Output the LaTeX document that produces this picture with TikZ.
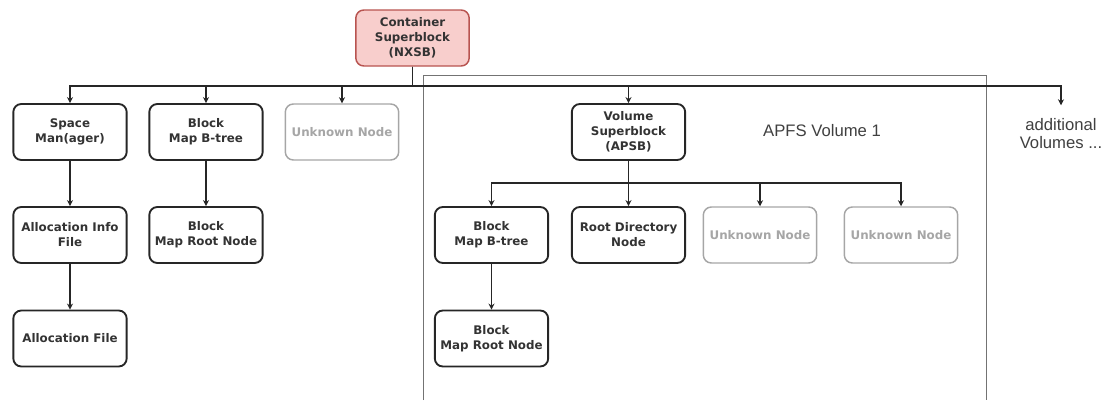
\documentclass[tikz,border=0pt]{standalone}
\usepackage{fontspec}
\setmainfont{DejaVu Sans}
\newfontfamily\lib{Liberation Sans}
\usetikzlibrary{arrows.meta}
\definecolor{nxfill}{HTML}{F8CECC}
\definecolor{nxdraw}{HTML}{B85450}
\definecolor{unkgray}{HTML}{A6A6A6}
\tikzset{
  box/.style={draw=black!85, line width=1.4pt, rounded corners=6pt, fill=white,
    minimum width=85pt, minimum height=42pt, inner sep=1pt, align=center,
    font=\fontsize{8.9}{11.2}\selectfont\bfseries, text=black!80},
  nxbox/.style={box, fill=nxfill, draw=nxdraw, line width=1.1pt},
  unk/.style={box, draw=unkgray, line width=1.1pt, text=unkgray},
  conn/.style={draw=black!85, line width=0.8pt, -{Stealth[length=4.5pt,width=4.5pt]}},
  lbl/.style={font=\lib\fontsize{12.5}{13.5}\selectfont, text=black!75, align=center},
}
\begin{document}
\begin{tikzpicture}[x=0.75pt,y=-0.75pt]
\useasboundingbox (0,0) rectangle (1109,400);
% volume frame
\draw[draw=black!55, line width=0.7pt] (423,400) -- (423,75) -- (986,75) -- (986,400);
% nodes
\node[nxbox] (nx) at (412.5,38) {Container\\Superblock\\(NXSB)};
\node[box] (sm) at (70,132) {Space\\Man(ager)};
\node[box] (bmt) at (206,132) {Block\\Map B-tree};
\node[unk] (u0) at (342,132) {Unknown Node};
\node[box] (vsb) at (628.5,132) {Volume\\Superblock\\(APSB)};
\node[lbl] (apfs) at (822,131) {APFS Volume 1};
\node[lbl, inner xsep=0pt, inner ysep=10pt] (av) at (1061,134) {additional\\Volumes ...};
\node[box] (aif) at (70,235) {Allocation Info\\File};
\node[box] (bmr) at (206,235) {Block\\Map Root Node};
\node[box] (af) at (70,338.5) {Allocation File};
\node[box] (vbmt) at (491.5,235) {Block\\Map B-tree};
\node[box] (rdn) at (628.5,235) {Root Directory\\Node};
\node[unk] (u1) at (760,235) {Unknown Node};
\node[unk] (u2) at (901,235) {Unknown Node};
\node[box] (vbmr) at (491.5,338.5) {Block\\Map Root Node};
% buses
\coordinate (bus) at (412.5,86);
\coordinate (vbus) at (628.5,183);
\foreach \t in {sm,bmt,u0,vsb,av}
  \draw[conn] (nx.south) -- (bus) -| (\t.north);
\foreach \t in {vbmt,rdn,u1,u2}
  \draw[conn] (vsb.south) -- (vbus) -| (\t.north);
\draw[conn] (sm) -- (aif);
\draw[conn] (aif) -- (af);
\draw[conn] (bmt) -- (bmr);
\draw[conn] (vbmt) -- (vbmr);
\end{tikzpicture}
\end{document}
